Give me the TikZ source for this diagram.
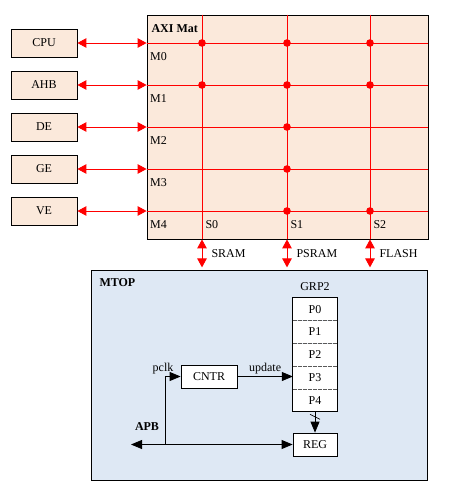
\documentclass[tikz,border=0pt]{standalone}
\usepackage{fontspec}
\setmainfont{Liberation Serif}
\newfontfamily\diagfont{Liberation Serif}
\usepackage{tikz}
\usetikzlibrary{calc}
\usetikzlibrary{positioning}
\usetikzlibrary{arrows.meta}

\definecolor{peach}{HTML}{FBE9DB}
\definecolor{paleblue}{HTML}{DEE8F4}

\begin{document}
\begin{tikzpicture}[x=1pt,y=-1pt,font=\diagfont\fontsize{12}{14}\selectfont]
\tikzstyle{box}=[rectangle,align=center,draw,line width=0.8pt,inner sep=0pt]
\tikzstyle{bus}=[red,line width=0.9pt]
\tikzstyle{dbl}=[bus,{Triangle[width=9.5pt,length=9pt]}-{Triangle[width=9.5pt,length=9pt]}]
\tikzstyle{sig}=[line width=0.8pt,-{Triangle[width=9pt,length=11pt]}]
\tikzstyle{title}=[anchor=west,font=\diagfont\fontsize{12}{14}\selectfont\bfseries]
\useasboundingbox (0,0) rectangle (449,489);

% AXI matrix
\node[box,fill=peach,minimum width=281pt,minimum height=224pt] at(287.5, 127) (axi) {};
\node[title] at(148, 29) (axit) {AXI Mat};
\foreach \name/\txt/\i/\y in {cpu/CPU/0/43, ahb/AHB/1/85, de/DE/2/127, ge/GE/3/169, ve/VE/4/211}{
  \node[box,fill=peach,minimum width=66pt,minimum height=28pt] at(44, \y) (\name) {\txt};
  \coordinate (m\i) at (axi.west |- 0,\y);
  \draw[bus] (m\i) -- (m\i -| axi.east);
  \node[anchor=west] at ($(m\i)+(0,14)$) (ml\i) {M\i};
  \draw[dbl] (\name.east) -- (m\i);
}
\foreach \j/\x/\lbl in {0/202/SRAM, 1/287/PSRAM, 2/370/FLASH}{
  \coordinate (s\j) at (\x,0 |- axi.north);
  \coordinate (b\j) at (s\j |- axi.south);
  \coordinate (t\j) at ($(b\j)+(0,28)$);
  \draw[bus] (s\j) -- (b\j);
  \draw[dbl] (b\j) -- (t\j);
  \node[anchor=west] at ($(s\j |- m4)+(0,14)$) (sl\j) {S\j};
  \node[anchor=west] at ($(b\j)+(6,14)$) (tl\j) {\lbl};
}
\foreach \j/\i in {0/0, 0/1, 1/0, 1/1, 1/2, 1/3, 1/4, 2/0, 2/1, 2/4}
  \fill[red] (s\j |- m\i) circle (3.8pt);

% MTOP
\node[box,fill=paleblue,minimum width=336pt,minimum height=210pt] at(259, 375) (mtop) {};
\node[title] at(96, 283) (mtopt) {MTOP};
\node at(315, 287) (grp) {GRP2};
\node[minimum width=44pt,minimum height=22.4pt,fill=white,inner sep=0pt] at(315, 309.2) (p0) {P0};
\node[minimum width=44pt,minimum height=22.4pt,fill=white,inner sep=0pt,below=0pt of p0] (p1) {P1};
\node[minimum width=44pt,minimum height=22.4pt,fill=white,inner sep=0pt,below=0pt of p1] (p2) {P2};
\node[minimum width=44pt,minimum height=22.4pt,fill=white,inner sep=0pt,below=0pt of p2] (p3) {P3};
\node[minimum width=44pt,minimum height=22.4pt,fill=white,inner sep=0pt,below=0pt of p3] (p4) {P4};
\draw[line width=0.8pt] (p0.north west) rectangle (p4.south east);
\foreach \i in {0,...,3}
  \draw[gray!70!black,line width=0.6pt,dash pattern=on 4pt off 1pt] (p\i.south west) -- (p\i.south east);

\node[box,fill=white,minimum width=56pt,minimum height=23pt] at(209, 376.5) (cntr) {CNTR};
\node[box,fill=white,minimum width=44pt,minimum height=23pt] at(315, 444.5) (reg) {REG};

\coordinate (clk) at (165, 444.5);
\coordinate (apb) at (131, 444.5);
\draw[sig] (cntr.east) -- node[above,inner sep=2pt] (upd) {update} (cntr.east -| p3.west);
\draw[sig] (clk) |- (cntr.west);
\draw[sig] (clk) -- (reg.west);
\draw[sig] (clk) -- (apb);
\node at(163, 369) (pclk) {pclk};
\node[title,anchor=center] at(147, 427) (apbt) {APB};
\draw[sig] (p4.south) -- (reg.north);
\draw[line width=0.6pt] ($(p4.south)!0.24!(reg.north)+(-5,-2.5)$) -- ++(10,5);
\end{tikzpicture}
\end{document}
